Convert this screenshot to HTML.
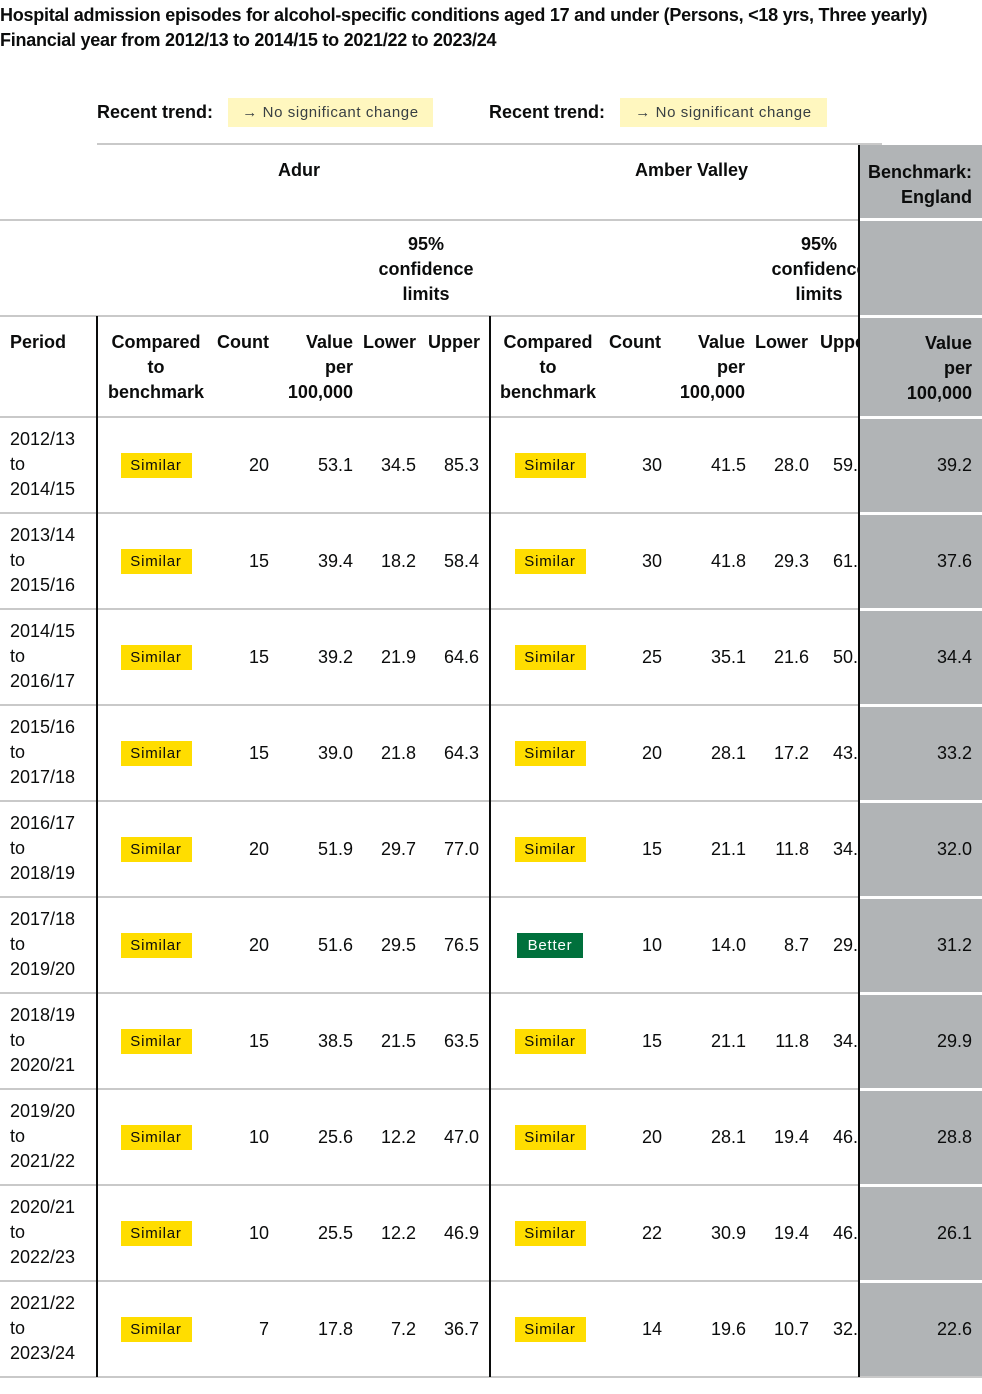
<!DOCTYPE html>
<html><head><meta charset="utf-8">
<style>
body{margin:0;width:982px;height:1394px;background:#fff;position:relative;overflow:hidden;font-family:"Liberation Sans",sans-serif;color:#0b0c0c}
.a{position:absolute;white-space:nowrap}
.b{font-weight:bold}
.t{font-size:18px}
.hl{position:absolute;height:2px;background:#c9c9c9}
.vl{position:absolute;width:1.5px;background:#0b0c0c}
.badge{position:absolute;height:25px;line-height:25px;font-size:15px;letter-spacing:0.8px;text-align:center}
.sim{background:#ffdd00;color:#0b0c0c}
.bet{background:#00703c;color:#fff}
</style></head><body>
<div class="a b" style="left:0;top:3px;font-size:18px;line-height:25px;letter-spacing:-0.25px">Hospital admission episodes for alcohol-specific conditions aged 17 and under (Persons, &lt;18 yrs, Three yearly)<br>Financial year from 2012/13 to 2014/15 to 2021/22 to 2023/24</div>

<div class="a b t" style="left:97px;top:102px">Recent trend:</div>
<div class="a" style="left:228px;top:98px;width:205px;height:29px;background:#fff7bf;font-size:15px;line-height:29px;letter-spacing:0.6px;color:#383f43;text-align:center">→ No significant change</div>
<div class="a b t" style="left:489px;top:102px">Recent trend:</div>
<div class="a" style="left:620px;top:98px;width:207px;height:29px;background:#fff7bf;font-size:15px;line-height:29px;letter-spacing:0.6px;color:#383f43;text-align:center">→ No significant change</div>

<div class="a" style="left:859px;top:145px;width:123px;height:1233px;background:#b1b4b6"></div>

<div class="hl" style="left:97px;top:143px;width:785px"></div>
<div class="hl" style="left:0;top:219px;width:858px"></div>
<div class="hl" style="left:0;top:315px;width:858px"></div>

<div class="a b t" style="left:278px;top:160px">Adur</div>
<div class="a b t" style="left:635px;top:160px">Amber Valley</div>
<div class="a b t" style="left:862px;top:160px;width:110px;text-align:right;line-height:25px">Benchmark:<br>England</div>

<div class="a b t" style="left:366px;top:232px;width:120px;text-align:center;line-height:25px">95%<br>confidence<br>limits</div>
<div style="position:absolute;left:489px;top:220px;width:369px;height:1160px;overflow:hidden" id="clipbox">
<div class="a b t" style="left:270px;top:12px;width:120px;text-align:center;line-height:25px">95%<br>confidence<br>limits</div>
</div>

<div id="tbl"></div>
<script>
const periods=["2012/13|to|2014/15","2013/14|to|2015/16","2014/15|to|2016/17","2015/16|to|2017/18","2016/17|to|2018/19","2017/18|to|2019/20","2018/19|to|2020/21","2019/20|to|2021/22","2020/21|to|2022/23","2021/22|to|2023/24"];
const adurCmp=["Similar","Similar","Similar","Similar","Similar","Similar","Similar","Similar","Similar","Similar"];
const adurCount=[20,15,15,15,20,20,15,10,10,7];
const adurValue=["53.1","39.4","39.2","39.0","51.9","51.6","38.5","25.6","25.5","17.8"];
const adurLower=["34.5","18.2","21.9","21.8","29.7","29.5","21.5","12.2","12.2","7.2"];
const adurUpper=["85.3","58.4","64.6","64.3","77.0","76.5","63.5","47.0","46.9","36.7"];
const amCmp=["Similar","Similar","Similar","Similar","Similar","Better","Similar","Similar","Similar","Similar"];
const amCount=[30,30,25,20,15,10,15,20,22,14];
const amValue=["41.5","41.8","35.1","28.1","21.1","14.0","21.1","28.1","30.9","19.6"];
const amLower=["28.0","29.3","21.6","17.2","11.8","8.7","11.8","19.4","19.4","10.7"];
const amUpper=["59.3","61.6","50.0","43.3","34.9","29.4","34.9","46.2","46.8","32.2"];
const engValue=["39.2","37.6","34.4","33.2","32.0","31.2","29.9","28.8","26.1","22.6"];

const body=document.body, clip=document.getElementById('clipbox');
function txt(parent,x,y,s,align,bold,w){
  const d=document.createElement('div');
  d.className='a t'+(bold?' b':'');
  w=w||80;
  d.style.top=y+'px';d.style.width=w+'px';
  d.style.left=(align==='right'?x-w:(align==='center'?x-w/2:x))+'px';
  d.style.textAlign=align;d.style.lineHeight='25px';
  d.innerHTML=s;parent.appendChild(d);return d;
}
let h;
h=txt(body,10,330,'Period','left',true);


[[97,body,0],[0,clip,-220]].forEach(([ox,par,oy])=>{
  let e=txt(par,ox+59,330+oy,'Compared<br>to<br>benchmark','center',true,110);
  
  
  e=txt(par,ox+172,330+oy,'Count','right',true);
  
  
  e=txt(par,ox+256,330+oy,'Value<br>per<br>100,000','right',true,100);
  
  
  e=txt(par,ox+319,330+oy,'Lower','right',true);
  
  
  e=txt(par,ox+383,330+oy,'Upper','right',true);
  
  
});
h=txt(body,972,331,'Value<br>per<br>100,000','right',true,100);



function line(l,t,w,c,hh){const d=document.createElement('div');d.style.cssText=`position:absolute;left:${l}px;top:${t}px;width:${w}px;height:${hh||2}px;background:${c}`;body.appendChild(d);}
line(859,218,123,'#fff',3);line(859,315,123,'#fff',3);line(0,416,858,'#c9c9c9');line(859,416,123,'#fff',3);

function badge(par,cx,y,kind){
  const d=document.createElement('div');
  d.className='badge '+(kind==='Better'?'bet':'sim');
  const w=kind==='Better'?66:71;
  d.style.left=(cx-w/2)+'px';d.style.top=y+'px';d.style.width=w+'px';
  d.textContent=kind;par.appendChild(d);return d;
}
const RH=96, Y0=418;
periods.forEach((p,i)=>{
  const y=Y0+i*RH;
  let e=txt(body,10,y+9,p.split('|').join('<br>'),'left',false,85);
  
  
  const my=y+35;
  e=badge(body,156,my,adurCmp[i]);
  
  
  e=txt(body,269,my,adurCount[i],'right');
  
  
  e=txt(body,353,my,adurValue[i],'right');
  
  
  e=txt(body,416,my,adurLower[i],'right');
  
  
  e=txt(body,479,my,adurUpper[i],'right');
  
  
  const cy=my-220;
  e=badge(clip,61,cy,amCmp[i]);
  
  
  e=txt(clip,173,cy,amCount[i],'right');
  
  
  e=txt(clip,257,cy,amValue[i],'right');
  
  
  e=txt(clip,320,cy,amLower[i],'right');
  
  
  e=txt(clip,344,cy,amUpper[i],'left');
  
  
  e=txt(body,972,my,engValue[i],'right');
  
  
  line(0,y+RH-2,858,'#c9c9c9');
  line(859,y+RH-2,123,'#fff',3);
});
line(0,Y0+10*RH-2,982,'#c9c9c9');
function vl(x,t,b){const d=document.createElement('div');d.className='vl';d.style.left=x+'px';d.style.top=t+'px';d.style.height=(b-t)+'px';body.appendChild(d);}
vl(96,316,1377);vl(489,316,1377);vl(858,145,1377);
</script>
</body></html>
